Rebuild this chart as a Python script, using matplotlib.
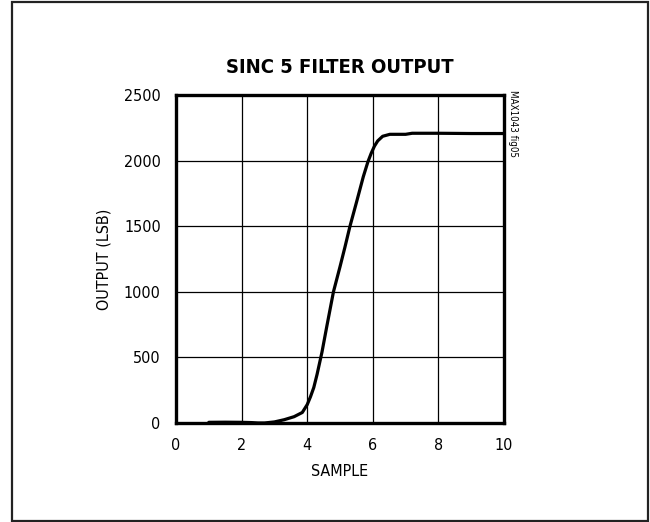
import matplotlib
matplotlib.use("Agg")
import matplotlib.pyplot as plt
from matplotlib.patches import Rectangle

plt.rcParams['font.family'] = ['DejaVu Sans']
plt.rcParams['font.stretch'] = 'condensed'

# data
sample = [1.0, 1.5, 2.0, 2.3, 2.5, 2.7, 3.0, 3.3, 3.6, 3.85, 4.0, 4.1, 4.2, 4.3,
          4.45, 4.6, 4.8, 5.0, 5.15, 5.3, 5.5, 5.71, 5.85, 5.95, 6.05, 6.15,
          6.3, 6.52, 7.0, 7.2, 8.0, 9.0, 10.0]
output = [5, 6, 5, 3, 0, 0, 8, 25, 48, 80, 140, 200, 270, 370,
          540, 740, 1000, 1191, 1340, 1496, 1680, 1877, 1990, 2055, 2110, 2150,
          2185, 2200, 2200, 2208, 2208, 2206, 2206]

x_ticks = [0, 2, 4, 6, 8, 10]
y_ticks = [0, 500, 1000, 1500, 2000, 2500]

fig = plt.figure(figsize=(6.5, 5.22), dpi=100)
ax = fig.add_axes([0.2708, 0.1897, 0.5046, 0.6284])

ax.plot(sample, output, color="black", linewidth=2.3,
        solid_capstyle="round", solid_joinstyle="round")

ax.set_xlim(0, 10)
ax.set_ylim(0, 2500)
ax.set_xticks(x_ticks)
ax.set_yticks(y_ticks)
ax.tick_params(length=0, pad=11, labelsize=11.5)
ax.grid(True, color="black", linewidth=0.9)
for s in ax.spines.values():
    s.set_linewidth(2.4)

ax.set_xlabel("SAMPLE", fontsize=11.5, labelpad=8)
ax.set_ylabel("OUTPUT (LSB)", fontsize=11.5, labelpad=9)
ax.set_title("SINC 5 FILTER OUTPUT", fontsize=14.5, fontweight="bold", pad=16)

fig.text(0.789, 0.828, "MAX1043 fig05", rotation=270, fontsize=7,
         ha="center", va="top")

fig.patches.append(Rectangle((12 / 650, 1 / 522), 636 / 650, 519 / 522,
                             transform=fig.transFigure, fill=False,
                             edgecolor="#222222", linewidth=1.6))

plt.savefig("out.png", dpi=100)
